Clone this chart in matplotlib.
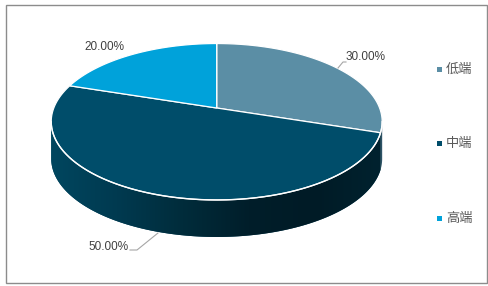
import numpy as np
import matplotlib
matplotlib.use("Agg")
import matplotlib.pyplot as plt
from matplotlib.patches import Polygon, Rectangle
from matplotlib.colors import LinearSegmentedColormap

# ---- data ----
categories = ['低端', '中端', '高端']
shares = [30.0, 50.0, 20.0]
label_texts = ['30.00%', '50.00%', '20.00%']
top_colors = ['#5B8EA5', '#004D6A', '#00A2DA']
side_colors = ['#2E5366', '#00405A', '#006A90']

W, H = 489, 286
fig = plt.figure(figsize=(W / 100, H / 100), dpi=100)
ax = fig.add_axes([0, 0, 1, 1])
ax.set_xlim(0, W)
ax.set_ylim(H, 0)
ax.axis('off')

# border
ax.add_patch(Rectangle((5.5, 4.5), 481, 278, fill=False, ec='#8C8C8C', lw=1.0))

# projection of the disc
cx, cy = 216.7, 108.0
A, B, k = 162.9, 75.8, 0.1757
thick = 37.0


def proj(phi, dz=0.0):
    u = np.sin(phi)
    v = -np.cos(phi)
    w = 1 - k * v
    return cx + A * u / w, cy + B * v / w + dz


fracs = np.array(shares) / np.sum(shares)
bounds = np.concatenate([[0], np.cumsum(fracs)]) * 2 * np.pi

phiL = np.pi + np.arccos(k)      # leftmost silhouette
phiR = np.pi - np.arccos(k)      # rightmost silhouette

# sides
side_cmap = LinearSegmentedColormap.from_list(
    'side', ['#00465F', '#003A50', '#002C3B', '#001E2A', '#001B26', '#00222F'])
for i in range(len(shares)):
    a, b = bounds[i], bounds[i + 1]
    lo, hi = max(a, phiR), min(b, phiL)
    if hi <= lo:
        continue
    ph = np.linspace(lo, hi, 200)
    xt, yt = proj(ph)
    xb, yb = proj(ph[::-1], thick)
    pts = np.column_stack([np.concatenate([xt, xb]), np.concatenate([yt, yb])])
    poly = Polygon(pts, closed=True, fc=side_colors[i], ec='none', zorder=2)
    ax.add_patch(poly)
    if i == 1:
        grad = np.linspace(0, 1, 256)[None, :]
        x0, x1 = pts[:, 0].min(), pts[:, 0].max()
        y0, y1 = pts[:, 1].min(), pts[:, 1].max()
        im = ax.imshow(grad, cmap=side_cmap, aspect='auto',
                       extent=[x0, x1, y1, y0], zorder=3, interpolation='bilinear')
        im.set_clip_path(poly)

# front edge white line
ph = np.linspace(phiR, phiL, 300)
xe, ye = proj(ph)
ax.plot(xe, ye, color='white', lw=1.0, zorder=5)

# top slices
for i in range(len(shares)):
    a, b = bounds[i], bounds[i + 1]
    ph = np.linspace(a, b, 300)
    xs, ys = proj(ph)
    pts = np.column_stack([np.concatenate([[cx], xs]), np.concatenate([[cy], ys])])
    ax.add_patch(Polygon(pts, closed=True, fc=top_colors[i], ec='white', lw=0.9,
                         joinstyle='miter', zorder=4))

# data labels with leaders
font_num = dict(family='Liberation Sans', size=8.5, color='#404040')
# 低端
ax.plot([338, 343, 346], [68, 62, 62], color='#A6A6A6', lw=0.8, zorder=6)
ax.text(346, 57, label_texts[0], ha='left', va='center', zorder=7, **font_num)
# 中端
ax.plot([158, 137, 130], [233, 250, 250], color='#A6A6A6', lw=0.8, zorder=6)
ax.text(129, 247, label_texts[1], ha='right', va='center', zorder=7, **font_num)
# 高端
ax.text(104, 47, label_texts[2], ha='center', va='center', zorder=7, **font_num)

# legend
leg_y = [69, 143, 218]
for i, name in enumerate(categories):
    ax.add_patch(Rectangle((436.5, leg_y[i] - 2.5), 5, 5, fc=top_colors[i], ec='none'))
    ax.text(446, leg_y[i], name, ha='left', va='center',
            family=['Noto Sans CJK SC', 'DejaVu Sans'], size=9.5, color='#595959')

fig.savefig('out.png', dpi=100)
